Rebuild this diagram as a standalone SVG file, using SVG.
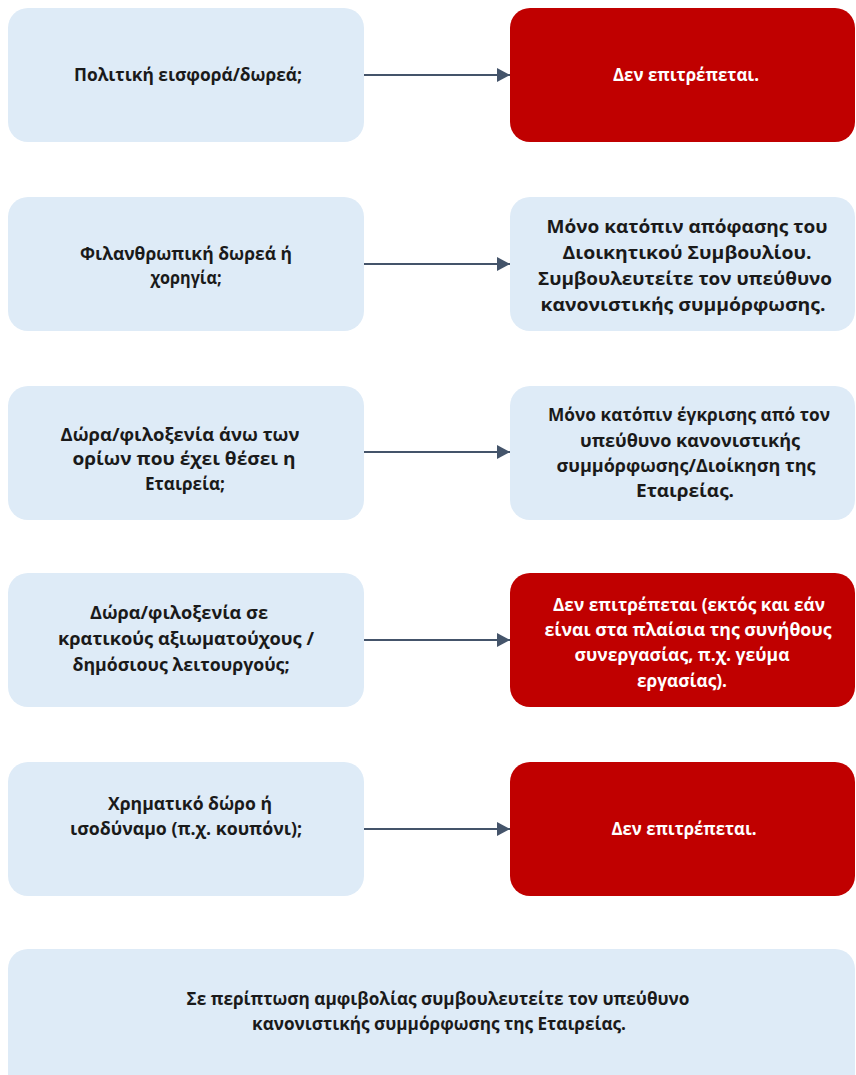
<svg xmlns="http://www.w3.org/2000/svg" width="856" height="1075" viewBox="0 0 856 1075">
<defs>
<style>
.q{fill:#DEEBF7}
.no{fill:#C00000}
.t{font-family:"Open Sans","Noto Sans","Liberation Sans",sans-serif;font-weight:bold;font-size:18px;text-anchor:middle;fill:#1a1a1a}
.w{fill:#ffffff}
.c{stroke:#44546A;stroke-width:2;fill:none;marker-end:url(#ah)}
</style>
<marker id="ah" markerWidth="14" markerHeight="14" refX="13" refY="7" orient="auto" markerUnits="userSpaceOnUse">
<path d="M0,0 L13,7 L0,14 Z" fill="#44546A"/>
</marker>
</defs>
<rect width="856" height="1075" fill="#ffffff"/>

<g id="connectors">
<line class="c" x1="364" y1="75" x2="510" y2="75"/>
<line class="c" x1="364" y1="264" x2="510" y2="264"/>
<line class="c" x1="364" y1="452" x2="510" y2="452"/>
<line class="c" x1="364" y1="640" x2="510" y2="640"/>
<line class="c" x1="364" y1="829" x2="510" y2="829"/>
</g>

<g id="q1">
<rect class="q" x="8" y="8" width="356" height="134" rx="20"/>
<text class="t" x="188" y="81" textLength="228" lengthAdjust="spacingAndGlyphs">Πολιτική εισφορά/δωρεά;</text>
</g>
<g id="a1">
<rect class="no" x="510" y="8" width="345" height="134" rx="20"/>
<text class="t w" x="686" y="81" textLength="146" lengthAdjust="spacingAndGlyphs">Δεν επιτρέπεται.</text>
</g>

<g id="q2">
<rect class="q" x="8" y="197" width="356" height="134" rx="20"/>
<text class="t" x="186" y="260" textLength="212" lengthAdjust="spacingAndGlyphs">Φιλανθρωπική δωρεά ή</text>
<text class="t" x="186" y="284" textLength="71" lengthAdjust="spacingAndGlyphs">χορηγία;</text>
</g>
<g id="a2">
<rect class="q" x="510" y="197" width="345" height="134" rx="20"/>
<text class="t" x="687" y="233" textLength="281" lengthAdjust="spacingAndGlyphs">Μόνο κατόπιν απόφασης του</text>
<text class="t" x="687" y="259" textLength="249" lengthAdjust="spacingAndGlyphs">Διοικητικού Συμβουλίου.</text>
<text class="t" x="685" y="285" textLength="294" lengthAdjust="spacingAndGlyphs">Συμβουλευτείτε τον υπεύθυνο</text>
<text class="t" x="683" y="311" textLength="285" lengthAdjust="spacingAndGlyphs">κανονιστικής συμμόρφωσης.</text>
</g>

<g id="q3">
<rect class="q" x="8" y="386" width="356" height="134" rx="20"/>
<text class="t" x="180" y="441" textLength="239" lengthAdjust="spacingAndGlyphs">Δώρα/φιλοξενία άνω των</text>
<text class="t" x="184" y="465" textLength="223" lengthAdjust="spacingAndGlyphs">ορίων που έχει θέσει η</text>
<text class="t" x="185" y="490" textLength="80" lengthAdjust="spacingAndGlyphs">Εταιρεία;</text>
</g>
<g id="a3">
<rect class="q" x="510" y="386" width="345" height="134" rx="20"/>
<text class="t" x="689" y="421" textLength="282" lengthAdjust="spacingAndGlyphs">Μόνο κατόπιν έγκρισης από τον</text>
<text class="t" x="690" y="447" textLength="220" lengthAdjust="spacingAndGlyphs">υπεύθυνο κανονιστικής</text>
<text class="t" x="686" y="472" textLength="259" lengthAdjust="spacingAndGlyphs">συμμόρφωσης/Διοίκηση της</text>
<text class="t" x="685" y="497" textLength="98" lengthAdjust="spacingAndGlyphs">Εταιρείας.</text>
</g>

<g id="q4">
<rect class="q" x="8" y="573" width="356" height="134" rx="20"/>
<text class="t" x="179" y="619" textLength="178" lengthAdjust="spacingAndGlyphs">Δώρα/φιλοξενία σε</text>
<text class="t" x="186" y="645" textLength="256" lengthAdjust="spacingAndGlyphs">κρατικούς αξιωματούχους /</text>
<text class="t" x="181" y="671" textLength="217" lengthAdjust="spacingAndGlyphs">δημόσιους λειτουργούς;</text>
</g>
<g id="a4">
<rect class="no" x="510" y="573" width="345" height="134" rx="20"/>
<text class="t w" x="689" y="611" textLength="272" lengthAdjust="spacingAndGlyphs">Δεν επιτρέπεται (εκτός και εάν</text>
<text class="t w" x="688" y="636" textLength="287" lengthAdjust="spacingAndGlyphs">είναι στα πλαίσια της συνήθους</text>
<text class="t w" x="682" y="661" textLength="215" lengthAdjust="spacingAndGlyphs">συνεργασίας, π.χ. γεύμα</text>
<text class="t w" x="682" y="687" textLength="90" lengthAdjust="spacingAndGlyphs">εργασίας).</text>
</g>

<g id="q5">
<rect class="q" x="8" y="762" width="356" height="134" rx="20"/>
<text class="t" x="190" y="810" textLength="164" lengthAdjust="spacingAndGlyphs">Χρηματικό δώρο ή</text>
<text class="t" x="186" y="835" textLength="232" lengthAdjust="spacingAndGlyphs">ισοδύναμο (π.χ. κουπόνι);</text>
</g>
<g id="a5">
<rect class="no" x="510" y="762" width="345" height="134" rx="20"/>
<text class="t w" x="684" y="835" textLength="145" lengthAdjust="spacingAndGlyphs">Δεν επιτρέπεται.</text>
</g>

<g id="note">
<rect class="q" x="8" y="949" width="847" height="150" rx="20"/>
<text class="t" x="438" y="1005" textLength="503" lengthAdjust="spacingAndGlyphs">Σε περίπτωση αμφιβολίας συμβουλευτείτε τον υπεύθυνο</text>
<text class="t" x="439" y="1030" textLength="374" lengthAdjust="spacingAndGlyphs">κανονιστικής συμμόρφωσης της Εταιρείας.</text>
</g>
</svg>
